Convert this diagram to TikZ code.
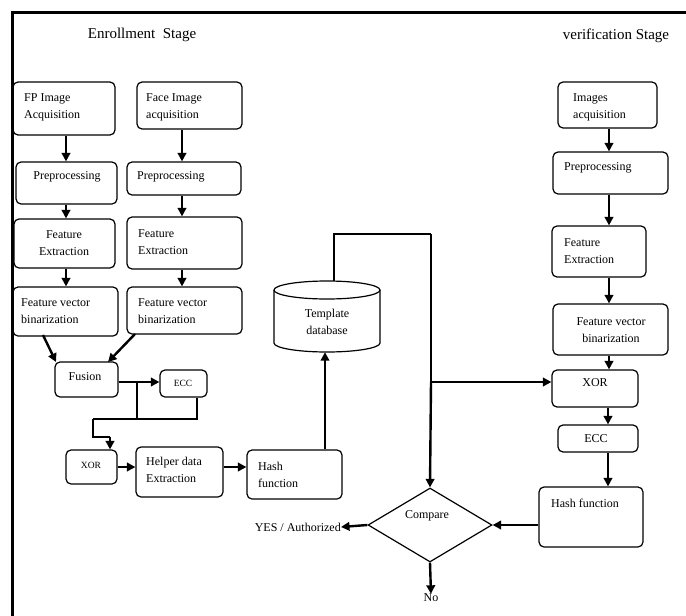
\documentclass[tikz,border=0pt]{standalone}
\usepackage{fontspec}
\setmainfont{Liberation Serif}
\usetikzlibrary{arrows.meta,shapes.geometric}
\tikzset{
  box/.style={draw, line width=1.2pt, rounded corners=5pt, inner sep=0pt},
  txt/.style={inner sep=0pt, font=\fontsize{12}{17}\selectfont, align=left},
  ctxt/.style={inner sep=0pt, font=\fontsize{12}{17}\selectfont, align=center},
  title/.style={inner sep=0pt, font=\fontsize{15}{16}\selectfont},
  arr/.style={line width=2.4pt, -{Triangle[length=8.5pt,width=8.5pt]}},
  thk/.style={line width=2.4pt},
  thn/.style={line width=1.2pt},
  hline/.style={line width=2pt}
}
\newcommand{\mybox}[5]{\node[box, minimum width={#4-#2}, minimum height={#5-#3}] (#1) at ({(#2+#4)/2},{(#3+#5)/2}) {};}
\begin{document}
\begin{tikzpicture}[x=1pt,y=-1pt]
\useasboundingbox (0,0) rectangle (686,616);
% frame
\draw[line width=3pt] (12,616) -- (12,12) -- (686,12);
% titles
\node[title] (t1) at (142,35) {Enrollment\ \ Stage};
\node[title] (t2) at (616,36) {verification Stage};
% left column boxes
\mybox{fp}{13}{82}{115}{135}
\node[txt, anchor=west] (fpt) at (24,107.5) {FP Image\\Acquisition};
\mybox{face}{137}{82}{242}{129}
\node[txt, anchor=west] (facet) at (146,107.5) {Face Image\\acquisition};
\mybox{pre1}{16}{162}{117}{204}
\node[ctxt] (pre1t) at (67,177) {Preprocessing};
\mybox{pre2}{127}{162}{241}{195}
\node[txt, anchor=west] (pre2t) at (137,177) {Preprocessing};
\mybox{fe1}{14}{219}{115}{268}
\node[ctxt] (fe1t) at (64,243) {Feature\\Extraction};
\mybox{fe2}{127}{217}{242}{269}
\node[txt, anchor=west] (fe2t) at (138,242) {Feature\\Extraction};
\mybox{fvb1}{13}{287}{118}{336}
\node[txt, anchor=west] (fvb1t) at (21,311) {Feature vector\\binarization};
\mybox{fvb2}{127}{287}{242}{334}
\node[txt, anchor=west] (fvb2t) at (138,311) {Feature vector\\binarization};
\mybox{fusion}{55}{362}{118}{397}
\node[ctxt] (fusiont) at (85,377) {Fusion};
\mybox{ecc1}{160}{370}{207}{397}
\node[ctxt, font=\fontsize{9.5}{11}\selectfont] (ecc1t) at (183,383) {ECC};
\mybox{xor1}{66}{450}{117}{484}
\node[ctxt, font=\fontsize{9.5}{11}\selectfont] (xor1t) at (91,465) {XOR};
\mybox{helper}{136}{447}{223}{497}
\node[txt, anchor=west] (helpert) at (146,470) {Helper data\\Extraction};
\mybox{hash1}{247}{450}{342}{499}
\node[txt, anchor=west] (hash1t) at (258,475) {Hash\\function};
% database cylinder
\node[minimum width=106pt, minimum height=71pt, inner sep=0pt] (db) at (327,316.5) {};
\draw[line width=1.2pt] (274,290) -- (274,343) arc[start angle=180,end angle=360,x radius=53,y radius=-9] -- (380,290);
\draw[line width=1.2pt] (327,290) ellipse[x radius=53, y radius=9];
\node[ctxt] (dbt) at (327,322) {Template\\database};
% right column
\mybox{img}{558}{82}{657}{128}
\node[txt, anchor=west] (imgt) at (573,107.5) {Images\\acquisition};
\mybox{pre3}{553}{152}{668}{194}
\node[txt, anchor=west] (pre3t) at (564,168) {Preprocessing};
\mybox{fe3}{552}{226}{646}{277}
\node[txt, anchor=west] (fe3t) at (564,251) {Feature\\Extraction};
\mybox{fvb3}{553}{304}{668}{355}
\node[ctxt] (fvb3t) at (611,330) {Feature vector\\binarization};
\mybox{xor2}{552}{370}{638}{407}
\node[ctxt] (xor2t) at (595,383) {XOR};
\mybox{ecc2}{558}{425}{638}{452}
\node[ctxt] (ecc2t) at (596,439) {ECC};
\mybox{hash2}{539}{487}{643}{547}
\node[txt, anchor=west] (hash2t) at (551,503) {Hash function};
% compare diamond
\node[diamond, draw, line width=1.2pt, minimum width=124pt, minimum height=74pt, inner sep=0pt, aspect=1.68] (cmp) at (430,525) {};
\node[ctxt] (cmpt) at (427,516) {Compare};
\node[ctxt, anchor=east] (yes) at (341,527) {YES / Authorized};
\node[ctxt] (no) at (431,598) {No};
% column coordinates
\coordinate (cL) at (66,0);
\coordinate (cM) at (182,0);
\coordinate (cR) at (609,0);
% left arrows
\draw[arr] (fp.south -| cL) -- (pre1.north -| cL);
\draw[arr] (face.south -| cM) -- (pre2.north -| cM);
\draw[arr] (pre1.south -| cL) -- (fe1.north -| cL);
\draw[arr] (pre2.south -| cM) -- (fe2.north -| cM);
\draw[arr] (fe1.south -| cL) -- (fvb1.north -| cL);
\draw[arr] (fe2.south -| cM) -- (fvb2.north -| cM);
\coordinate (f1s) at (43,335);
\coordinate (f2s) at (135,334);
\coordinate (fuL) at (56,362);
\coordinate (fuR) at (108,362);
\draw[arr] (f1s) -- (fuL);
\draw[arr] (f2s) -- (fuR);
\coordinate (fy) at (0,382);
\draw[arr] (fusion.east |- fy) -- (ecc1.west |- fy);
\coordinate (j1) at (137,382);
\coordinate (j2) at (137,419);
\coordinate (j3) at (197,419);
\coordinate (j4) at (93,419);
\coordinate (j5) at (93,437);
\coordinate (j6) at (110,437);
\draw[thn] (j1) -- (j2);
\draw[thn] (ecc1.south -| j3) -- (j3) -- (j4);
\draw[thk] (j4) -- (j5) -- (j6);
\draw[arr] (j6) -- (xor1.north -| j6);
\coordinate (hy) at (0,467);
\draw[arr] (xor1.east |- hy) -- (helper.west |- hy);
\draw[arr] (helper.east |- hy) -- (hash1.west |- hy);
\coordinate (dbx) at (325,0);
\draw[arr] (hash1.north -| dbx) -- (db.south -| dbx);
% database to compare and xor
\coordinate (d1) at (334,281);
\coordinate (d2) at (334,234);
\coordinate (d3) at (431,234);
\coordinate (d4) at (431,382);
\draw[hline] (d1) -- (d2) -- (d3);
\draw[thk] (d3) -- (d4);
\draw[arr] (d4) -- (cmp.north);
\draw[arr] (d4) -- (xor2.west |- d4);
% right arrows
\draw[arr] (img.south -| cR) -- (pre3.north -| cR);
\draw[arr] (pre3.south -| cR) -- (fe3.north -| cR);
\draw[arr] (fe3.south -| cR) -- (fvb3.north -| cR);
\draw[arr] (fvb3.south -| cR) -- (xor2.north -| cR);
\coordinate (cR2) at (608,0);
\draw[arr] (xor2.south -| cR2) -- (ecc2.north -| cR2);
\draw[arr] (ecc2.south -| cR2) -- (hash2.north -| cR2);
\draw[arr] (hash2.west |- cmp.east) -- (cmp.east);
\draw[arr] (cmp.west) -- (yes.east);
\draw[arr] (cmp.south) -- (no.north);
\end{tikzpicture}
\end{document}
